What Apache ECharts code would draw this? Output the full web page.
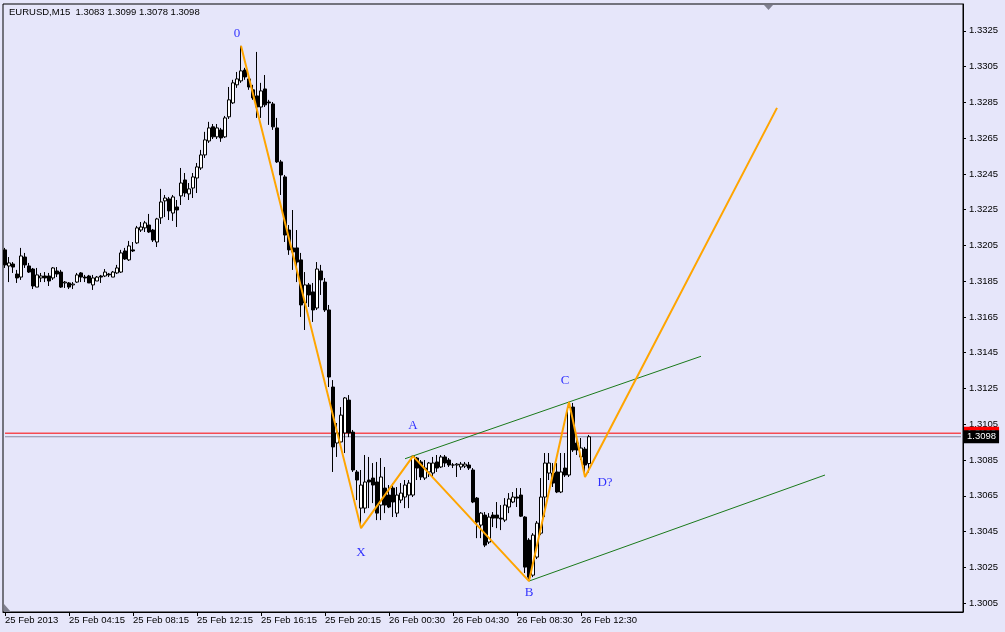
<!DOCTYPE html>
<html>
<head>
<meta charset="utf-8">
<script src="https://cdn.jsdelivr.net/npm/echarts@6/dist/echarts.min.js"></script>
<style>
html,body{margin:0;padding:0;background:#E6E6FA;}
#c{width:1005px;height:632px;}
</style>
</head>
<body>
<div id="c"></div>
<script>
// ---- data (EURUSD M15) ----
const titleText = 'EURUSD,M15  1.3083 1.3099 1.3078 1.3098';
const tickLabels = ['25 Feb 2013','25 Feb 04:15','25 Feb 08:15','25 Feb 12:15','25 Feb 16:15','25 Feb 20:15','26 Feb 00:30','26 Feb 04:30','26 Feb 08:30','26 Feb 12:30'];
const priceTicks = [1.3005,1.3025,1.3045,1.3065,1.3085,1.3105,1.3125,1.3145,1.3165,1.3185,1.3205,1.3225,1.3245,1.3265,1.3285,1.3305,1.3325];
const barsPerLabel = 16;
const slotCount = 240;

const opens = [
1.32025,1.31935,1.31946,1.31890,1.31873,1.31985,1.31935,1.31918,1.31817,1.31868,
1.31879,1.31879,1.31868,1.31907,1.31901,1.31840,1.31840,1.31829,1.31845,1.31896,
1.31873,1.31879,1.31829,1.31851,1.31879,1.31879,1.31890,1.31873,1.31896,1.31901,
1.32019,1.31969,1.32025,1.32064,1.32136,1.32148,1.32164,1.32136,1.32069,1.32204,
1.32299,1.32310,1.32231,1.32265,1.32327,1.32416,1.32338,1.32371,1.32427,1.32483,
1.32556,1.32634,1.32713,1.32657,1.32696,1.32657,1.32769,1.32847,1.32948,1.32970,
1.33031,1.32981,1.32920,1.32886,1.32824,1.32925,1.32852,1.32841,1.32707,1.32517,
1.32433,1.32136,1.32036,1.32036,1.31969,1.31728,1.31829,1.31790,1.31700,1.31907,
1.31845,1.31689,1.31258,1.30945,1.30951,1.31001,1.31185,1.31006,1.30783,1.30581,
1.30581,1.30738,1.30749,1.30727,1.30598,1.30693,1.30654,1.30693,1.30553,1.30626,
1.30643,1.30654,1.30654,1.30861,1.30839,1.30749,1.30783,1.30777,1.30839,1.30811,
1.30867,1.30850,1.30822,1.30822,1.30811,1.30816,1.30822,1.30794,1.30637,1.30486,
1.30542,1.30391,1.30542,1.30542,1.30525,1.30514,1.30587,1.30615,1.30643,1.30654,
1.30531,1.30402,1.30206,1.30307,1.30441,1.30643,1.30777,1.30777,1.30783,1.30671,
1.30805,1.30766,1.31146,1.30945,1.30867,1.30911,1.3083];
const closes = [
1.31941,1.31952,1.31929,1.31868,1.31991,1.31941,1.31901,1.31823,1.31885,1.31879,
1.31868,1.31851,1.31924,1.31890,1.31817,1.31845,1.31817,1.31834,1.31885,1.31873,
1.31868,1.31840,1.31868,1.31873,1.31873,1.31901,1.31885,1.31901,1.31924,1.32008,
1.31974,1.32047,1.32019,1.32148,1.32153,1.32176,1.32125,1.32080,1.32198,1.32293,
1.32315,1.32243,1.32321,1.32248,1.32399,1.32343,1.32366,1.32433,1.32489,1.32556,
1.32640,1.32707,1.32657,1.32707,1.32651,1.32763,1.32864,1.32959,1.32981,1.33026,
1.32992,1.32936,1.32875,1.32824,1.32914,1.32836,1.32847,1.32713,1.32517,1.32444,
1.32108,1.32025,1.32013,1.31957,1.31717,1.31829,1.31773,1.31689,1.31918,1.31857,
1.31689,1.31314,1.30923,1.31001,1.31101,1.31197,1.31001,1.30794,1.30738,1.30710,
1.30727,1.30727,1.30710,1.30553,1.30755,1.30598,1.30587,1.30615,1.30654,1.30665,
1.30710,1.30721,1.30872,1.30805,1.30755,1.30805,1.30833,1.30833,1.30805,1.30867,
1.30833,1.30822,1.30822,1.30827,1.30827,1.30827,1.30805,1.30615,1.30503,1.30553,
1.30374,1.30531,1.30525,1.30525,1.30520,1.30598,1.30632,1.30643,1.30637,1.30536,
1.30251,1.30195,1.30430,1.30497,1.30643,1.30833,1.30833,1.30721,1.30671,1.30783,
1.30766,1.31146,1.30906,1.30906,1.30917,1.30822,1.3098];
const lows = [
1.31924,1.31845,1.31896,1.31840,1.31857,1.31924,1.31896,1.31806,1.31817,1.31845,
1.31845,1.31823,1.31857,1.31873,1.31812,1.31812,1.31806,1.31806,1.31840,1.31845,
1.31845,1.31840,1.31801,1.31851,1.31840,1.31873,1.31873,1.31873,1.31890,1.31896,
1.31969,1.31963,1.32013,1.32058,1.32125,1.32125,1.32120,1.32069,1.32041,1.32170,
1.32209,1.32192,1.32187,1.32153,1.32276,1.32321,1.32304,1.32315,1.32343,1.32472,
1.32539,1.32623,1.32645,1.32645,1.32629,1.32651,1.32757,1.32841,1.32931,1.32959,
1.32976,1.32920,1.32864,1.32763,1.32763,1.32824,1.32724,1.32696,1.32511,1.32332,
1.32069,1.31997,1.31913,1.31845,1.31650,1.31577,1.31706,1.31622,1.31689,1.31773,
1.31678,1.31258,1.30783,1.30867,1.30945,1.30889,1.30978,1.30783,1.30626,1.30469,
1.30553,1.30581,1.30609,1.30514,1.30514,1.30553,1.30581,1.30531,1.30531,1.30609,
1.30581,1.30581,1.30643,1.30738,1.30738,1.30738,1.30755,1.30755,1.30783,1.30805,
1.30811,1.30811,1.30805,1.30755,1.30794,1.30805,1.30794,1.30609,1.30413,1.30413,
1.30363,1.30380,1.30475,1.30469,1.30458,1.30503,1.30553,1.30609,1.30587,1.30531,
1.30218,1.30173,1.30195,1.30296,1.30430,1.30531,1.30738,1.30699,1.30665,1.30665,
1.30755,1.30755,1.30895,1.30878,1.30850,1.30755,1.3078];
const highs = [
1.32036,1.31985,1.31957,1.31913,1.32036,1.32008,1.31952,1.31924,1.31924,1.31896,
1.31901,1.31896,1.31929,1.31929,1.31913,1.31851,1.31845,1.31845,1.31896,1.31901,
1.31885,1.31885,1.31885,1.31879,1.31885,1.31918,1.31896,1.31907,1.31941,1.32025,
1.32036,1.32075,1.32069,1.32159,1.32181,1.32187,1.32226,1.32142,1.32204,1.32366,
1.32332,1.32321,1.32332,1.32304,1.32483,1.32455,1.32399,1.32455,1.32511,1.32584,
1.32685,1.32741,1.32729,1.32729,1.32707,1.32774,1.32936,1.32976,1.33020,1.33166,
1.33043,1.33003,1.32948,1.33132,1.32959,1.33003,1.32864,1.32852,1.32763,1.32528,
1.32444,1.32164,1.32248,1.32136,1.32008,1.31901,1.31840,1.31840,1.31957,1.31941,
1.31868,1.31717,1.31297,1.31057,1.31146,1.31202,1.31213,1.31018,1.30794,1.30794,
1.30878,1.30867,1.30833,1.30839,1.30861,1.30811,1.30710,1.30721,1.30699,1.30721,
1.30738,1.30738,1.30872,1.30867,1.30850,1.30850,1.30839,1.30867,1.30878,1.30878,
1.30878,1.30861,1.30833,1.30833,1.30839,1.30839,1.30839,1.30805,1.30643,1.30559,
1.30559,1.30553,1.30559,1.30615,1.30598,1.30637,1.30665,1.30671,1.30693,1.30693,
1.30536,1.30413,1.30441,1.30509,1.30749,1.30889,1.30889,1.30833,1.30833,1.30889,
1.30889,1.31174,1.31169,1.30962,1.30973,1.30923,1.3099];

// zigzag pattern (0, X, A, B, C, D?, projection)
const zigBars   = [59, 89, 102, 131, 141, 145, 193];
const zigPrices = [1.33166, 1.30469, 1.30872, 1.30173, 1.31174, 1.30755, 1.32819];
// channel lines
const upperBars = [100, 174];
const upperPrices = [1.30857, 1.31430];
const lowerBars = [131, 205];
const lowerPrices = [1.30173, 1.30766];
// point labels
const pointNames  = ['0', 'X', 'A', 'B', 'C', 'D?'];
const pointBars   = [58, 89, 102, 131, 140, 150];
const pointPrices = [1.33233, 1.30330, 1.31040, 1.30106, 1.31292, 1.30721];
// bid / ask
const askPrice = 1.3100;
const bidPrice = 1.3098;

// ---- build ----
const categories = Array.from({length: slotCount}, (_, i) => String(i));
const candles = opens.map((o, i) => [o, closes[i], lows[i], highs[i]]);
const showTick = (i) => i % barsPerLabel === 0 && (i / barsPerLabel) < tickLabels.length;
const FONT = 'Liberation Sans';

function priceLine(price, lineColor, boxColor, z) {
  return {
    type: 'line', z: z, silent: true, symbol: 'none', color: lineColor,
    data: [[0, price], [slotCount - 1, price]],
    lineStyle: {color: lineColor, width: 1, type: 'solid'},
    emphasis: {disabled: true},
    markLine: {
      silent: true, symbol: ['none', 'none'], animation: false, precision: 4,
      lineStyle: {color: lineColor, width: 0, type: 'solid'},
      label: {show: true, position: 'end', distance: 1, formatter: () => price.toFixed(4), opacity: 1,
              color: '#fff', backgroundColor: boxColor, padding: [2, 3, 1, 3], fontSize: 9.5, fontFamily: FONT},
      data: [{yAxis: price}]
    }
  };
}

const chart = echarts.init(document.getElementById('c'), null, {renderer: 'canvas'});
chart.setOption({
  animation: false,
  backgroundColor: '#E6E6FA',
  title: {
    text: titleText, left: 9, top: 7, padding: 0,
    textStyle: {fontSize: 9.5, fontWeight: 'normal', color: '#000', fontFamily: FONT}
  },
  grid: {left: 3, right: 42, top: 4, bottom: 20, show: true, borderColor: '#000', borderWidth: 1, backgroundColor: 'transparent'},
  xAxis: {
    type: 'category', data: categories, boundaryGap: true,
    axisLine: {show: true, lineStyle: {color: '#000', width: 1}},
    axisTick: {show: true, alignWithLabel: true, interval: (i) => showTick(i), length: 4, lineStyle: {color: '#000'}},
    axisLabel: {
      show: true, interval: (i) => showTick(i), align: 'left', margin: 3,
      fontSize: 9.5, color: '#000', fontFamily: FONT,
      formatter: (v, i) => showTick(i) ? tickLabels[i / barsPerLabel] : ''
    },
    splitLine: {show: false}
  },
  yAxis: {
    type: 'value', position: 'right', min: 1.3000, max: 1.3340, scale: true,
    axisLine: {show: true, lineStyle: {color: '#000', width: 1}},
    axisTick: {show: true, customValues: priceTicks, length: 3, lineStyle: {color: '#000'}},
    axisLabel: {show: true, customValues: priceTicks, margin: 6, fontSize: 9.5, color: '#000', fontFamily: FONT,
      formatter: (v) => v.toFixed(4)},
    splitLine: {show: false}
  },
  series: [
    priceLine(askPrice, '#ff0000', '#ff0000', 1),
    priceLine(bidPrice, '#8a8aa0', '#000000', 1.5),
    {
      type: 'candlestick', data: candles, barWidth: 3,
      itemStyle: {color: '#ffffff', color0: '#000000', borderColor: '#000000', borderColor0: '#000000', borderColorDoji: '#000000', borderWidth: 1},
      emphasis: {disabled: true},
      z: 2
    },
    {
      type: 'line', data: upperBars.map((b, i) => [b, upperPrices[i]]), symbol: 'none',
      lineStyle: {color: '#1a7a1a', width: 1}, z: 3, silent: true
    },
    {
      type: 'line', data: lowerBars.map((b, i) => [b, lowerPrices[i]]), symbol: 'none',
      lineStyle: {color: '#1a7a1a', width: 1}, z: 3, silent: true
    },
    {
      type: 'line', data: zigBars.map((b, i) => [b, zigPrices[i]]), symbol: 'none',
      lineStyle: {color: '#FFA500', width: 2}, z: 4, silent: true
    },
    {
      type: 'scatter', data: pointBars.map((b, i) => [b, pointPrices[i], pointNames[i]]),
      symbolSize: 0, z: 5, silent: true,
      label: {show: true, position: 'inside', formatter: (p) => p.data[2], color: '#0000ff', fontSize: 13, fontFamily: 'Liberation Serif'}
    }
  ],
  graphic: [
    {type: 'polygon', shape: {points: [[764, 5], [773, 5], [768.5, 10]]}, style: {fill: '#808090'}, silent: true},
    {type: 'polygon', shape: {points: [[4, 604], [4, 612], [11, 612]]}, style: {fill: '#808090'}, silent: true}
  ]
});
</script>
</body>
</html>
